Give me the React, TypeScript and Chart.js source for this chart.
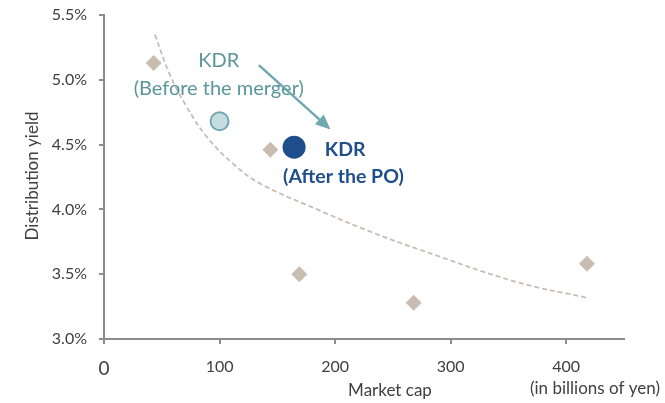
import React, { useEffect, useRef } from "react";
import { Chart, registerables } from "chart.js";

Chart.register(...registerables);

// ---- Data ----
const peerCaps = [43, 144, 169, 268, 418];
const peerYields = [5.13, 4.46, 3.5, 3.28, 3.58];

const kdrBeforeCap = [100];
const kdrBeforeYield = [4.68];

const kdrAfterCap = [164.5];
const kdrAfterYield = [4.48];

const trendCaps = [44, 57, 71, 89, 112, 135, 187, 230, 273, 357, 417];
const trendYields = [5.35, 5.04, 4.8, 4.56, 4.35, 4.2, 3.99, 3.83, 3.69, 3.44, 3.32];

const xTicks = [0, 100, 200, 300, 400];
const yTicks = [3.0, 3.5, 4.0, 4.5, 5.0, 5.5];

// ---- Annotation anchors (data coordinates) ----
const beforeLabelAt = { x: 99.3, y1: 5.148, y2: 4.936 };
const afterLabelAt = { x1: 191.1, y1: 4.457, x2: 155, y2: 4.249 };
const arrowFrom = { x: 134, y: 5.113 };
const arrowTo = { x: 196, y: 4.617 };

const FONT = "Lato, 'Open Sans', sans-serif";
const TEXT = "#404040";
const TEAL_TEXT = "#5B959C";
const TEAL = "#6FA8B0";
const NAVY = "#1F4E8C";
const TAN = "#C9BDB1";
const AXIS = "#8C8C8C";

const pts = (xs: number[], ys: number[]) => xs.map((x, i) => ({ x, y: ys[i] }));

const annotationPlugin = {
  id: "annotations",
  afterDraw(chart: any) {
    const { ctx } = chart;
    const xs = chart.scales.x;
    const ys = chart.scales.y;
    ctx.save();
    ctx.textBaseline = "middle";

    // KDR before label
    ctx.fillStyle = TEAL_TEXT;
    ctx.font = `20px ${FONT}`;
    ctx.textAlign = "center";
    ctx.fillText("KDR", xs.getPixelForValue(beforeLabelAt.x), ys.getPixelForValue(beforeLabelAt.y1));
    ctx.fillText("(Before the merger)", xs.getPixelForValue(beforeLabelAt.x), ys.getPixelForValue(beforeLabelAt.y2));

    // KDR after label
    ctx.fillStyle = NAVY;
    ctx.font = `bold 19.5px ${FONT}`;
    ctx.textAlign = "left";
    ctx.fillText("KDR", xs.getPixelForValue(afterLabelAt.x1), ys.getPixelForValue(afterLabelAt.y1));
    ctx.fillText("(After the PO)", xs.getPixelForValue(afterLabelAt.x2), ys.getPixelForValue(afterLabelAt.y2));

    // Arrow
    const x0 = xs.getPixelForValue(arrowFrom.x);
    const y0 = ys.getPixelForValue(arrowFrom.y);
    const x1 = xs.getPixelForValue(arrowTo.x);
    const y1 = ys.getPixelForValue(arrowTo.y);
    const ang = Math.atan2(y1 - y0, x1 - x0);
    const headLen = 15;
    const headW = 6.5;
    const bx = x1 - headLen * Math.cos(ang);
    const by = y1 - headLen * Math.sin(ang);
    ctx.strokeStyle = TEAL;
    ctx.lineWidth = 2.5;
    ctx.beginPath();
    ctx.moveTo(x0, y0);
    ctx.lineTo(bx, by);
    ctx.stroke();
    ctx.fillStyle = TEAL;
    ctx.beginPath();
    ctx.moveTo(x1, y1);
    ctx.lineTo(bx + headW * Math.sin(ang), by - headW * Math.cos(ang));
    ctx.lineTo(bx - headW * Math.sin(ang), by + headW * Math.cos(ang));
    ctx.closePath();
    ctx.fill();

    // Axis titles
    ctx.fillStyle = TEXT;
    ctx.font = `17px ${FONT}`;
    ctx.textAlign = "center";
    ctx.fillText("Market cap", 390, 391);
    ctx.fillText("(in billions of yen)", 595, 389);
    ctx.save();
    ctx.translate(33, 176);
    ctx.rotate(-Math.PI / 2);
    ctx.fillText("Distribution yield", 0, 0);
    ctx.restore();

    ctx.restore();
  },
};

export default function App() {
  const ref = useRef<HTMLCanvasElement | null>(null);

  useEffect(() => {
    if (!ref.current) return;
    const chart = new Chart(ref.current, {
      type: "scatter",
      data: {
        datasets: [
          {
            type: "line",
            label: "Trend",
            data: pts(trendCaps, trendYields),
            borderColor: TAN,
            borderWidth: 1.8,
            borderDash: [5, 3],
            pointRadius: 0,
            fill: false,
            tension: 0.4,
            order: 3,
          } as any,
          {
            label: "Peers",
            data: pts(peerCaps, peerYields),
            pointStyle: "rectRot",
            pointRadius: 8,
            backgroundColor: TAN,
            borderWidth: 0,
            order: 2,
          },
          {
            label: "KDR (Before the merger)",
            data: pts(kdrBeforeCap, kdrBeforeYield),
            pointStyle: "circle",
            pointRadius: 9,
            backgroundColor: "#C5DCE0",
            borderColor: TEAL,
            borderWidth: 2,
            order: 1,
          },
          {
            label: "KDR (After the PO)",
            data: pts(kdrAfterCap, kdrAfterYield),
            pointStyle: "circle",
            pointRadius: 11.5,
            backgroundColor: NAVY,
            borderWidth: 0,
            order: 0,
          },
        ],
      },
      options: {
        animation: false,
        responsive: true,
        maintainAspectRatio: false,
        layout: { padding: { top: 15, right: 41, left: 0, bottom: 0 } },
        plugins: {
          legend: { display: false },
          tooltip: { enabled: false },
        },
        scales: {
          x: {
            type: "linear",
            min: 0,
            max: 450,
            afterBuildTicks: (s: any) => {
              s.ticks = xTicks.map((v) => ({ value: v }));
            },
            afterFit: (s: any) => {
              s.height = 64;
              s.paddingLeft = 0;
              s.paddingRight = 0;
            },
            grid: {
              drawOnChartArea: false,
              drawTicks: true,
              tickLength: 5,
              color: AXIS,
              lineWidth: 2,
            },
            border: { display: true, color: AXIS, width: 2 },
            ticks: {
              color: TEXT,
              padding: 13,
              font: (c: any) => ({ family: FONT, size: c.tick && c.tick.value === 0 ? 19 : 16 }),
              callback: (v: any) => String(v),
            },
          },
          y: {
            type: "linear",
            min: 3.0,
            max: 5.5,
            afterBuildTicks: (s: any) => {
              s.ticks = yTicks.map((v) => ({ value: v }));
            },
            afterFit: (s: any) => {
              s.width = 104;
              s.paddingTop = 0;
              s.paddingBottom = 0;
            },
            grid: {
              drawOnChartArea: false,
              drawTicks: true,
              tickLength: 5,
              color: AXIS,
              lineWidth: 2,
            },
            border: { display: true, color: AXIS, width: 2 },
            ticks: {
              color: TEXT,
              padding: 12,
              font: { family: FONT, size: 16 },
              callback: (v: any) => Number(v).toFixed(1) + "%",
            },
          },
        },
      },
      plugins: [annotationPlugin],
    });
    return () => chart.destroy();
  }, []);

  return (
    <div style={{ position: "fixed", left: 0, top: 0, width: 665, height: 403, background: "#fff" }}>
      <canvas ref={ref} />
    </div>
  );
}
